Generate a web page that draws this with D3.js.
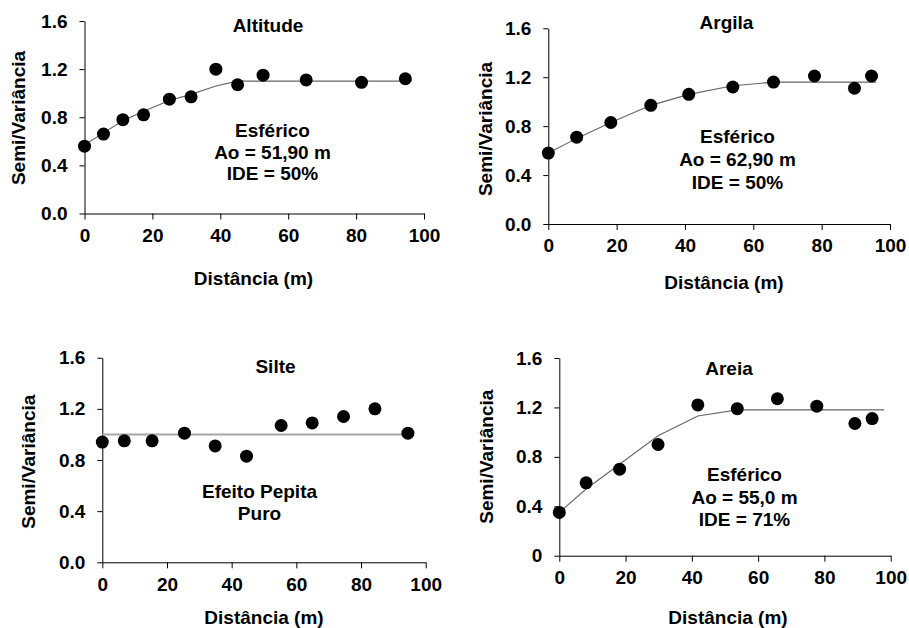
<!DOCTYPE html>
<html>
<head>
<meta charset="utf-8">
<script src="https://cdn.jsdelivr.net/npm/d3@7"></script>
<style>
  body { margin: 0; background: #fff; }
  text { font-family: "Liberation Sans", Arial, sans-serif; font-weight: bold; font-size: 19px; fill: #000; }
</style>
</head>
<body>
<svg id="chart" width="909" height="628"></svg>
<script>
// tick labels
var xTicks = [0, 20, 40, 60, 80, 100];
var yTicks = [0, 0.4, 0.8, 1.2, 1.6];

// Altitude
var altitudeDist  = [0, 5.6, 11.3, 17.4, 25.0, 31.4, 38.7, 45.1, 52.6, 65.3, 81.6, 94.5];
var altitudeGamma = [0.56, 0.66, 0.78, 0.82, 0.95, 0.97, 1.20, 1.07, 1.15, 1.11, 1.09, 1.12];
var altitudeModelDist  = [0, 5.6, 11.3, 17.4, 25.0, 31.4, 38.7, 45.0, 96.4];
var altitudeModelGamma = [0.57, 0.67, 0.77, 0.85, 0.94, 0.99, 1.06, 1.10, 1.10];
var altitudeNote = ["Esférico", "Ao = 51,90 m", "IDE = 50%"];

// Argila
var argilaDist  = [0, 8.3, 18.3, 30.0, 41.1, 54.0, 65.9, 77.9, 89.6, 94.6];
var argilaGamma = [0.58, 0.71, 0.83, 0.97, 1.06, 1.12, 1.16, 1.21, 1.11, 1.21];
var argilaModelDist  = [0, 8.3, 18.3, 30.0, 41.1, 54.0, 65.9, 96.0];
var argilaModelGamma = [0.58, 0.70, 0.83, 0.97, 1.06, 1.13, 1.16, 1.16];
var argilaNote = ["Esférico", "Ao = 62,90 m", "IDE = 50%"];

// Silte
var silteDist  = [0, 6.8, 15.4, 25.4, 34.9, 44.6, 55.3, 64.9, 74.6, 84.3, 94.5];
var silteGamma = [0.94, 0.95, 0.95, 1.01, 0.91, 0.83, 1.07, 1.09, 1.14, 1.20, 1.01];
var silteModelDist  = [0, 96.0];
var silteModelGamma = [1.0, 1.0];
var silteNote = ["Efeito Pepita", "Puro"];

// Areia
var areiaDist  = [0, 8.1, 18.2, 29.8, 41.8, 53.7, 65.8, 77.7, 89.2, 94.4];
var areiaGamma = [0.35, 0.59, 0.70, 0.90, 1.22, 1.19, 1.27, 1.21, 1.07, 1.11];
var areiaModelDist  = [0, 8.1, 18.2, 29.8, 41.8, 53.7, 98.0];
var areiaModelGamma = [0.35, 0.54, 0.74, 0.97, 1.13, 1.18, 1.18];
var areiaNote = ["Esférico", "Ao = 55,0 m", "IDE = 71%"];

var fmt1 = d3.format(".1f");

var panels = [
  {name: "Altitude", dist: altitudeDist, gamma: altitudeGamma, mDist: altitudeModelDist, mGamma: altitudeModelGamma, note: altitudeNote,
   left: 84.5, right: 424, top: 21, bottom: 213.5, titleX: 268, titleY: 31.5, noteX: 272.5, noteY: [136.5, 158.5, 180],
   yTitleX: 25, yTitleY: 118, xTitleX: 253.5, xTitleY: 285, lineColor: "#666", lineWidth: 1.1, yFmt: fmt1},
  {name: "Argila", dist: argilaDist, gamma: argilaGamma, mDist: argilaModelDist, mGamma: argilaModelGamma, note: argilaNote,
   left: 548.3, right: 890, top: 28.3, bottom: 224, titleX: 726.5, titleY: 29, noteX: 737.5, noteY: [143.3, 166, 188.5],
   yTitleX: 491.5, yTitleY: 129, xTitleX: 724, xTitleY: 288.5, lineColor: "#666", lineWidth: 1.1, yFmt: fmt1},
  {name: "Silte", dist: silteDist, gamma: silteGamma, mDist: silteModelDist, mGamma: silteModelGamma, note: silteNote,
   left: 102.3, right: 425.7, top: 357.7, bottom: 562.3, titleX: 275.5, titleY: 372.5, noteX: 259.5, noteY: [498.3, 520],
   yTitleX: 35, yTitleY: 461.7, xTitleX: 264, xTitleY: 624, lineColor: "#a6a6a6", lineWidth: 2, yFmt: fmt1},
  {name: "Areia", dist: areiaDist, gamma: areiaGamma, mDist: areiaModelDist, mGamma: areiaModelGamma, note: areiaNote,
   left: 559.3, right: 890.7, top: 358, bottom: 555.7, titleX: 729, titleY: 375, noteX: 744.5, noteY: [480.7, 504, 526],
   yTitleX: 492.7, yTitleY: 456.7, xTitleX: 728, xTitleY: 624, lineColor: "#666", lineWidth: 1.1,
   yFmt: function(d) { return d === 0 ? "0" : fmt1(d); }}
];

var svg = d3.select('#chart');
svg.append('rect').attr('width', 909).attr('height', 628).attr('fill', '#fff');

panels.forEach(function(p) {
  var x = d3.scaleLinear().domain([0, 100]).range([p.left, p.right]);
  var y = d3.scaleLinear().domain([0, 1.6]).range([p.bottom, p.top]);
  var g = svg.append('g');

  var xAxis = d3.axisBottom(x).tickValues(xTicks).tickSize(6).tickPadding(9).tickSizeOuter(0);
  var yAxis = d3.axisLeft(y).tickValues(yTicks).tickSize(5).tickPadding(12).tickSizeOuter(0).tickFormat(p.yFmt);

  g.append('g').attr('transform', 'translate(0,' + p.bottom + ')').call(xAxis);
  g.append('g').attr('transform', 'translate(' + p.left + ',0)').call(yAxis);
  g.selectAll('.domain, .tick line').attr('stroke', '#000').attr('stroke-width', 1);
  g.selectAll('.tick text')
    .attr('font-family', '"Liberation Sans", Arial, sans-serif')
    .attr('font-weight', 'bold').attr('font-size', 19).attr('fill', '#000');

  var model = p.mDist.map(function(d, i) { return [d, p.mGamma[i]]; });
  var line = d3.line().x(function(d) { return x(d[0]); }).y(function(d) { return y(d[1]); });
  g.append('path').datum(model)
    .attr('d', line)
    .attr('fill', 'none')
    .attr('stroke', p.lineColor)
    .attr('stroke-width', p.lineWidth);

  g.selectAll('.dot')
    .data(p.dist)
    .enter()
    .append('circle')
    .attr('class', 'dot')
    .attr('cx', function(d) { return x(d); })
    .attr('cy', function(d, i) { return y(p.gamma[i]); })
    .attr('r', 6.5)
    .attr('fill', '#000');

  g.append('text').attr('x', p.titleX).attr('y', p.titleY).attr('text-anchor', 'middle').text(p.name);

  g.selectAll('.note')
    .data(p.note)
    .enter()
    .append('text')
    .attr('class', 'note')
    .attr('x', p.noteX)
    .attr('y', function(d, i) { return p.noteY[i]; })
    .attr('text-anchor', 'middle')
    .text(function(d) { return d; });

  g.append('text').attr('x', p.xTitleX).attr('y', p.xTitleY).attr('text-anchor', 'middle').text('Distância (m)');
  g.append('text')
    .attr('transform', 'translate(' + p.yTitleX + ',' + p.yTitleY + ') rotate(-90)')
    .attr('text-anchor', 'middle')
    .text('Semi/Variância');
});
</script>
</body>
</html>
